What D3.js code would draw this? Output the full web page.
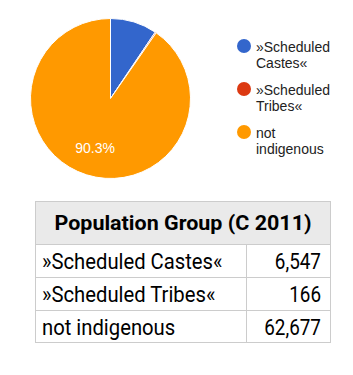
<!DOCTYPE html>
<html>
<head>
<meta charset="utf-8">
<script src="https://cdn.jsdelivr.net/npm/d3@7"></script>
<style>
  body { margin: 0; background: #fff; }
  svg { display: block; }
</style>
</head>
<body>
<div id="chart"></div>
<script>
// population groups, census 2011
const groups = ["»Scheduled Castes«", "»Scheduled Tribes«", "not indigenous"];
const legendLines = [["»Scheduled", "Castes«"], ["»Scheduled", "Tribes«"], ["not", "indigenous"]];
const population = [6547, 166, 62677];
const colors = ["#3366cc", "#dc3912", "#ff9900"];
const tableTitle = "Population Group (C 2011)";

const width = 353, height = 375;
const svg = d3.select("#chart").append("svg")
    .attr("width", width)
    .attr("height", height);

// pie
const total = d3.sum(population);
const radius = 80;
const pieG = svg.append("g").attr("transform", "translate(110.5,98.5)");

const pie = d3.pie().sort(null).value(d => d)(population);
const arc = d3.arc().innerRadius(0).outerRadius(radius);

pieG.selectAll(".slice")
    .data(pie)
    .enter()
    .append("path")
    .attr("class", "slice")
    .attr("d", arc)
    .attr("fill", (d, i) => colors[i])
    .attr("stroke", "#fff")
    .attr("stroke-width", 1);

// only the big slice gets a label
const labelArc = d3.arc().innerRadius(radius * 0.645).outerRadius(radius * 0.645);
pieG.selectAll(".pct")
    .data(pie.filter(d => d.value / total > 0.15))
    .enter()
    .append("text")
    .attr("class", "pct")
    .attr("transform", d => `translate(${labelArc.centroid(d)})`)
    .attr("text-anchor", "middle")
    .attr("dy", "0.35em")
    .attr("fill", "#fff")
    .style("font-family", "Liberation Sans, Arial, sans-serif")
    .style("font-size", "14px")
    .text(d => (d.value / total * 100).toFixed(1) + "%");

// legend
const legendY = d3.scalePoint().domain(groups).range([46, 132]);
const legend = svg.selectAll(".legend")
    .data(groups)
    .enter()
    .append("g")
    .attr("class", "legend")
    .attr("transform", d => `translate(244,${legendY(d)})`);

legend.append("circle")
    .attr("r", 7)
    .attr("fill", (d, i) => colors[i]);

legend.append("text")
    .attr("x", 12)
    .attr("y", 6)
    .style("font-family", "Liberation Sans, Arial, sans-serif")
    .style("font-size", "14px")
    .attr("fill", "#222")
    .selectAll("tspan")
    .data((d, i) => legendLines[i])
    .enter()
    .append("tspan")
    .attr("x", 12)
    .attr("dy", (d, j) => j === 0 ? 0 : 16)
    .text(d => d);

// table
const tLeft = 35, tRight = 331, tTop = 201, headH = 43, rowH = 33, colX = 246;
const squeezeName = 0.9, squeezeNum = 0.84; // condensed look
const rowY = d3.scaleBand().domain(groups).range([tTop + headH, tTop + headH + rowH * groups.length]);
const tbl = svg.append("g");

tbl.append("rect")
    .attr("x", tLeft).attr("y", tTop)
    .attr("width", tRight - tLeft).attr("height", headH)
    .attr("fill", "#eaeaea");

tbl.append("text")
    .attr("x", (tLeft + tRight) / 2)
    .attr("y", tTop + 29)
    .attr("text-anchor", "middle")
    .style("font-family", "Roboto, sans-serif")
    .style("font-weight", "bold")
    .style("font-size", "21px")
    .attr("textLength", 257)
    .attr("lengthAdjust", "spacingAndGlyphs")
    .attr("fill", "#000")
    .text(tableTitle);

// grid lines
tbl.append("rect")
    .attr("x", tLeft + 0.5).attr("y", tTop + 0.5)
    .attr("width", tRight - tLeft - 1).attr("height", headH + rowH * groups.length - 1)
    .attr("fill", "none")
    .attr("stroke", "#cccccc");

tbl.selectAll(".hline")
    .data(groups)
    .enter()
    .append("line")
    .attr("x1", tLeft).attr("x2", tRight)
    .attr("y1", d => rowY(d) + 0.5).attr("y2", d => rowY(d) + 0.5)
    .attr("stroke", "#cccccc");

tbl.append("line")
    .attr("x1", colX + 0.5).attr("x2", colX + 0.5)
    .attr("y1", tTop + headH).attr("y2", tTop + headH + rowH * groups.length)
    .attr("stroke", "#cccccc");

tbl.selectAll(".name")
    .data(groups)
    .enter()
    .append("text")
    .attr("transform", d => `translate(${tLeft + 7},${rowY(d) + 25}) scale(${squeezeName},1)`)
    .style("font-family", "Roboto, sans-serif")
    .style("font-size", "22.5px")
    .attr("fill", "#000")
    .text(d => d);

tbl.selectAll(".num")
    .data(population)
    .enter()
    .append("text")
    .attr("transform", (d, i) => `translate(${tRight - 10},${rowY(groups[i]) + 25}) scale(${squeezeNum},1)`)
    .attr("text-anchor", "end")
    .style("font-family", "Roboto, sans-serif")
    .style("font-size", "22.5px")
    .attr("fill", "#000")
    .text(d => d3.format(",")(d));
</script>
</body>
</html>
